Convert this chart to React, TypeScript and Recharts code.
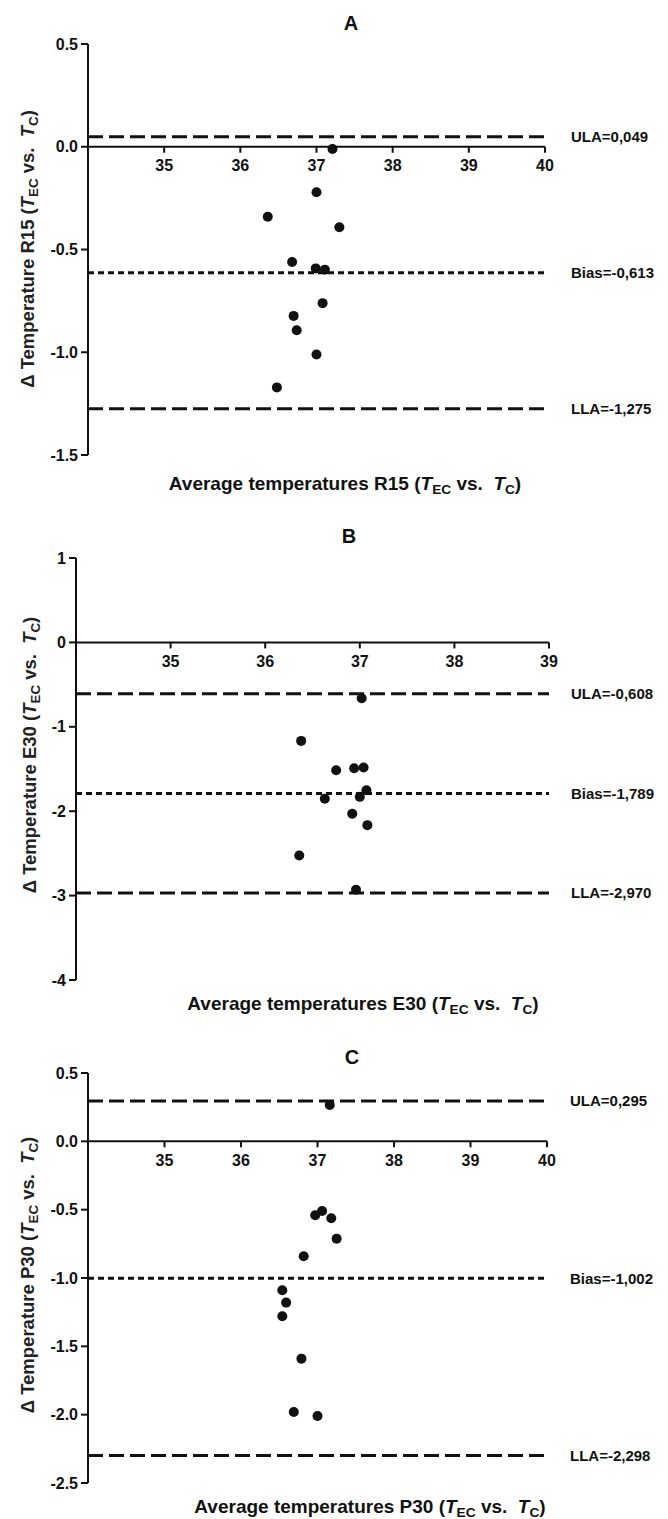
import { ScatterChart, Scatter, XAxis, YAxis, ReferenceLine } from 'recharts'

// Panel A (R15)
const avgA = [37.21, 37.0, 36.36, 37.3, 36.68, 36.99, 37.11, 37.08, 36.7, 36.74, 37.0, 36.48]
const diffA = [-0.011, -0.221, -0.341, -0.392, -0.561, -0.592, -0.598, -0.761, -0.823, -0.893, -1.011, -1.171]
const limitsA = { ula: 0.049, bias: -0.613, lla: -1.275 }
const labelsA = ['ULA=0,049', 'Bias=-0,613', 'LLA=-1,275']

// Panel B (E30)
const avgB = [37.02, 36.38, 36.75, 36.94, 37.04, 37.07, 36.63, 37.0, 36.92, 37.08, 36.36, 36.96]
const diffB = [-0.662, -1.167, -1.514, -1.491, -1.483, -1.751, -1.853, -1.83, -2.031, -2.165, -2.524, -2.93]
const limitsB = { ula: -0.608, bias: -1.789, lla: -2.97 }
const labelsB = ['ULA=-0,608', 'Bias=-1,789', 'LLA=-2,970']

// Panel C (P30)
const avgC = [37.16, 36.97, 37.06, 37.18, 37.25, 36.82, 36.54, 36.59, 36.54, 36.79, 36.69, 37.0]
const diffC = [0.266, -0.541, -0.51, -0.563, -0.712, -0.841, -1.09, -1.18, -1.28, -1.59, -1.98, -2.01]
const limitsC = { ula: 0.295, bias: -1.002, lla: -2.298 }
const labelsC = ['ULA=0,295', 'Bias=-1,002', 'LLA=-2,298']

const xTicks40 = [35, 36, 37, 38, 39, 40]
const xTicks39 = [35, 36, 37, 38, 39]
const yTicksA = [0.5, 0, -0.5, -1, -1.5]
const yTicksB = [1, 0, -1, -2, -3, -4]
const yTicksC = [0.5, 0, -0.5, -1, -1.5, -2, -2.5]

const FONT = '"Liberation Sans", Arial, Helvetica, sans-serif'
const INK = '#111'
const X_AXIS_H = 20

interface PanelProps {
  top: number
  height: number
  plotTop: number
  plotBottom: number
  plotLeft: number
  plotRight: number
  xs: number[]
  ys: number[]
  limits: { ula: number; bias: number; lla: number }
  labels: string[]
  xDomain: [number, number]
  xTicks: number[]
  yDomain: [number, number]
  yTicks: number[]
  yDecimals: number
  labelOffset: number
}

function Dot(props: any) {
  return <circle cx={props.cx} cy={props.cy} r={5} fill={INK} />
}

function Panel(p: PanelProps) {
  const data = p.xs.map((x, i) => ({ x, y: p.ys[i] }))
  const margin = {
    top: p.plotTop,
    right: 668 - p.plotRight,
    bottom: p.height - p.plotBottom - X_AXIS_H,
    left: 0,
  }
  const plotH = p.plotBottom - p.plotTop
  // x axis crosses at y = 0, so move its ticks up from the bottom of the plot
  const shift = (plotH * (0 - p.yDomain[0])) / (p.yDomain[1] - p.yDomain[0])

  const ZeroTick = (t: any) => {
    const y0 = t.y - shift
    return (
      <g>
        <line x1={t.x} x2={t.x} y1={y0} y2={y0 + 6} stroke={INK} strokeWidth={2} />
        <text x={t.x} y={y0 + 20} textAnchor="middle" dominantBaseline="middle"
          fill={INK} fontSize={16} fontWeight="bold" fontFamily={FONT}>
          {t.payload.value}
        </text>
      </g>
    )
  }

  const lbl = (value: string) => ({
    value,
    position: 'right' as const,
    offset: p.labelOffset,
    fill: INK,
    fontSize: 15,
    fontWeight: 'bold',
    fontFamily: FONT,
  })

  return (
    <div style={{ position: 'absolute', left: 0, top: p.top }}>
      <ScatterChart width={668} height={p.height} margin={margin}>
        <XAxis type="number" dataKey="x" domain={p.xDomain} ticks={p.xTicks} height={X_AXIS_H}
          axisLine={false} tickLine={false} tickSize={0} tickMargin={0} tick={ZeroTick} interval={0} />
        <YAxis type="number" dataKey="y" domain={p.yDomain} ticks={p.yTicks} width={p.plotLeft}
          axisLine={{ stroke: INK, strokeWidth: 2 }} tickLine={{ stroke: INK, strokeWidth: 2 }}
          tickSize={7} tickMargin={3} interval={0} tickFormatter={(v: number) => v.toFixed(p.yDecimals)}
          tick={{ fill: INK, fontSize: 16, fontWeight: 'bold', fontFamily: FONT }} />
        <ReferenceLine y={0} stroke={INK} strokeWidth={2} />
        <ReferenceLine y={p.limits.ula} stroke={INK} strokeWidth={3} strokeDasharray="15 6" label={lbl(p.labels[0])} />
        <ReferenceLine y={p.limits.bias} stroke={INK} strokeWidth={3} strokeDasharray="6 4" label={lbl(p.labels[1])} />
        <ReferenceLine y={p.limits.lla} stroke={INK} strokeWidth={3} strokeDasharray="15 6" label={lbl(p.labels[2])} />
        <Scatter data={data} shape={Dot} isAnimationActive={false} />
      </ScatterChart>
    </div>
  )
}

const sub = { fontSize: '0.72em', verticalAlign: '-0.3em', lineHeight: 0 }

function AxisTitle({ name, x, y, rotate, text }: { name: string; x: number; y: number; rotate?: boolean; text: string }) {
  return (
    <div style={{
      position: 'absolute', left: x, top: y, whiteSpace: 'nowrap', lineHeight: 1,
      transform: `translate(-50%, -50%)${rotate ? ' rotate(-90deg)' : ''}`,
      fontFamily: FONT, fontWeight: 'bold', fontSize: rotate ? 18.5 : 19, color: rotate ? '#222' : INK,
    }}>
      {text} {name} (<i>T</i><span style={sub}>EC</span> vs.&nbsp; <i>T</i><span style={sub}>C</span>)
    </div>
  )
}

function Title({ x, y, text }: { x: number; y: number; text: string }) {
  return (
    <div style={{
      position: 'absolute', left: x, top: y, transform: 'translate(-50%, -50%)', lineHeight: 1,
      fontFamily: FONT, fontWeight: 'bold', fontSize: 20, color: INK,
    }}>{text}</div>
  )
}

export default function App() {
  return (
    <div style={{ position: 'absolute', left: 0, top: 0, width: 668, height: 1519, background: '#fff', overflow: 'hidden' }}>
      <Panel top={0} height={505} plotTop={44} plotBottom={455} plotLeft={88} plotRight={545}
        xs={avgA} ys={diffA} limits={limitsA} labels={labelsA}
        xDomain={[34, 40]} xTicks={xTicks40} yDomain={[-1.5, 0.5]} yTicks={yTicksA} yDecimals={1} labelOffset={26} />
      <Panel top={505} height={510} plotTop={53} plotBottom={475} plotLeft={76} plotRight={549}
        xs={avgB} ys={diffB} limits={limitsB} labels={labelsB}
        xDomain={[34, 39]} xTicks={xTicks39} yDomain={[-4, 1]} yTicks={yTicksB} yDecimals={0} labelOffset={22} />
      <Panel top={1015} height={504} plotTop={58} plotBottom={468} plotLeft={88} plotRight={547}
        xs={avgC} ys={diffC} limits={limitsC} labels={labelsC}
        xDomain={[34, 40]} xTicks={xTicks40} yDomain={[-2.5, 0.5]} yTicks={yTicksC} yDecimals={1} labelOffset={23} />

      <Title x={351} y={23} text="A" />
      <Title x={349} y={536} text="B" />
      <Title x={352} y={1057} text="C" />

      <AxisTitle x={345} y={483} text="Average temperatures" name="R15" />
      <AxisTitle x={363} y={1003} text="Average temperatures" name="E30" />
      <AxisTitle x={370} y={1506} text="Average temperatures" name="P30" />

      <AxisTitle x={28} y={249} rotate text={'\u0394 Temperature'} name="R15" />
      <AxisTitle x={30} y={755} rotate text={'\u0394 Temperature'} name="E30" />
      <AxisTitle x={28} y={1275} rotate text={'\u0394 Temperature'} name="P30" />
    </div>
  )
}
